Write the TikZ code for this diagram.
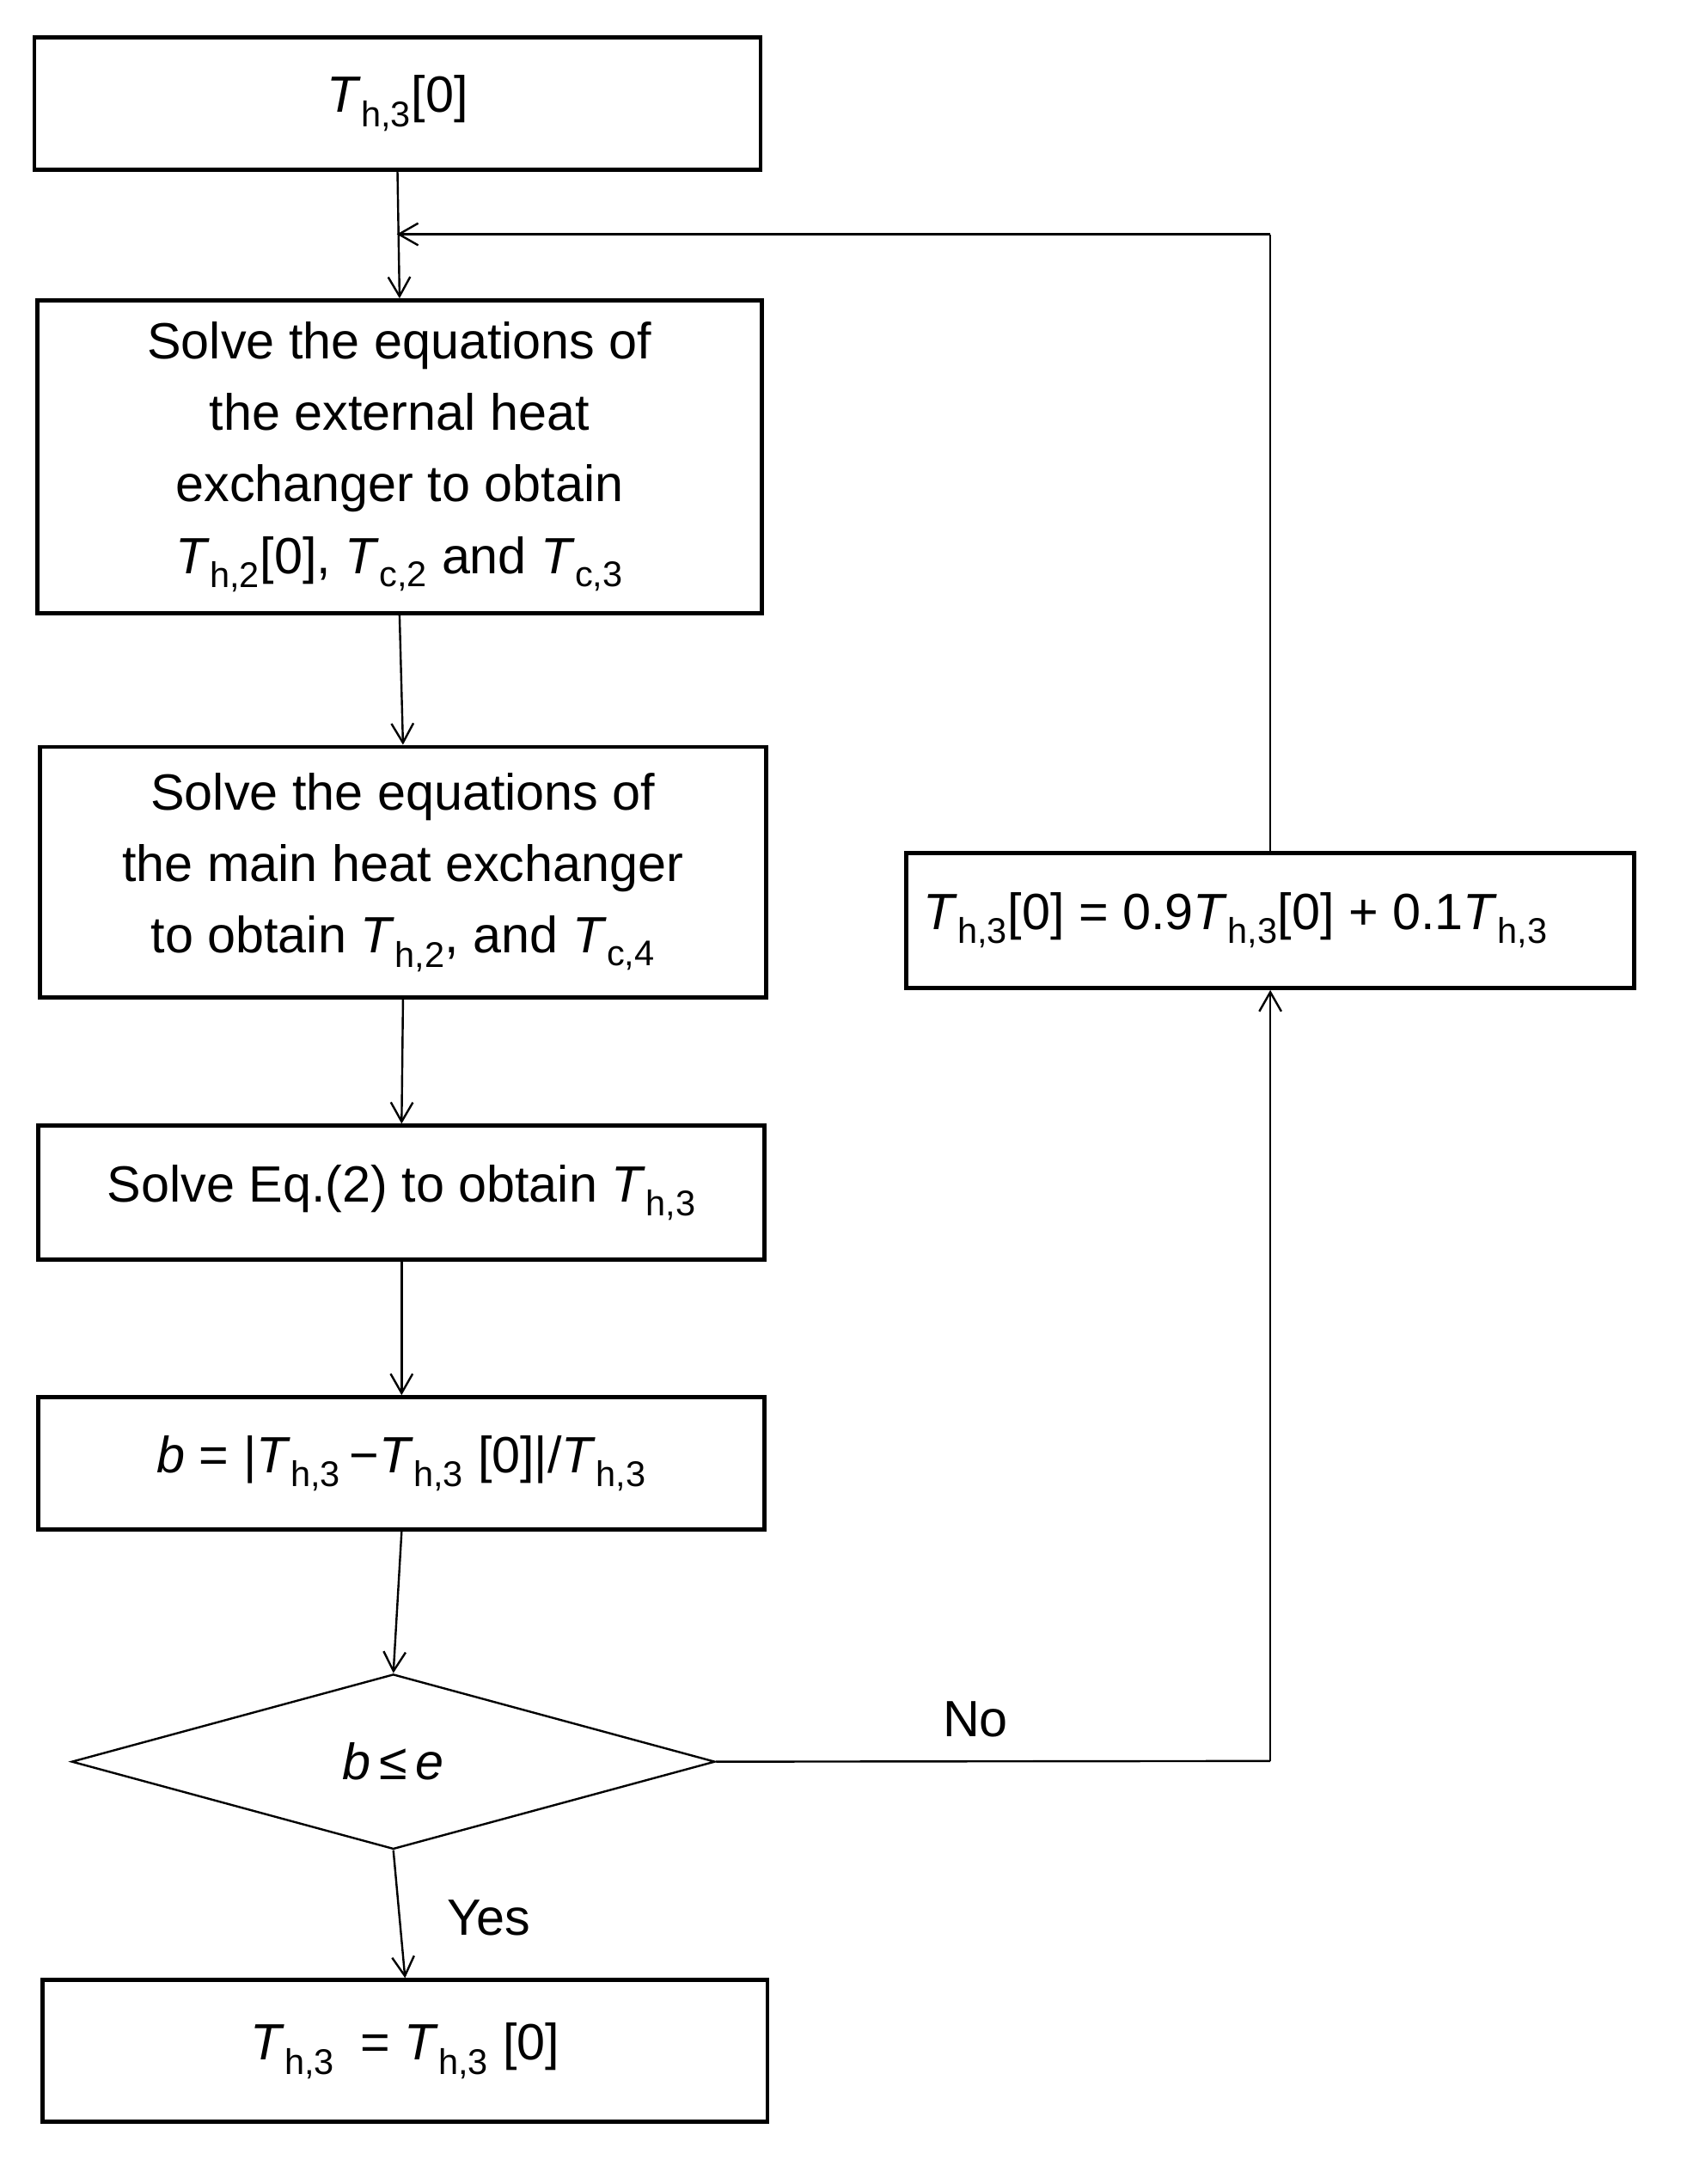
\documentclass[tikz,border=0pt]{standalone}
\usepackage{fontspec}
\setmainfont{Liberation Sans}
\usetikzlibrary{shapes.geometric,arrows.meta}
\newcommand{\TT}[1]{\textit{T}\textsubscript{#1}}
\begin{document}
\begin{tikzpicture}[x=1pt,y=-1pt,
  box/.style={draw,line width=3pt,inner sep=0pt,font=\fontsize{37}{52}\selectfont,align=center},
  arr/.style={line width=1.5pt,-{Straight Barb[length=14pt,width=16pt,line width=1.5pt]}},
  ln/.style={line width=1.5pt}]
\useasboundingbox (0,0) rectangle (1220,1585);
\node[box,minimum width=527pt,minimum height=96pt] (b1) at (288.5,75) {\TT{h,3}[0]};
\node[box,minimum width=526pt,minimum height=227pt] (b2) at (290,331.5) {Solve the equations of\\the external heat\\exchanger to obtain\\\TT{h,2}[0], \TT{c,2} and \TT{c,3}};
\node[box,minimum width=527pt,minimum height=182pt] (b3) at (292.5,633) {Solve the equations of\\the main heat exchanger\\to obtain \TT{h,2}, and \TT{c,4}};
\node[box,minimum width=527pt,minimum height=97pt] (b4) at (291.5,865.5) {Solve Eq.(2) to obtain \TT{h,3}};
\node[box,minimum width=527pt,minimum height=96pt] (b5) at (291.5,1062) {\textit{b} = |\TT{h,3}\,\textminus\TT{h,3} [0]|/\TT{h,3}};
\node[draw,line width=1.5pt,diamond,aspect=3.68,inner sep=0pt,minimum width=467pt,minimum height=127pt,font=\fontsize{37}{52}\selectfont] (d) at (285.5,1278.5) {\textit{b}\,≤\,\textit{e}};
\node[box,minimum width=526pt,minimum height=103pt] (b6) at (294,1488.5) {\TT{h,3}\enspace= \TT{h,3} [0]};
\node[box,minimum width=528pt,minimum height=98pt] (r) at (922,668) {};
\node[font=\fontsize{37}{52}\selectfont,anchor=west,inner sep=0pt] (rt) at (670,668) {\TT{h,3}[0] = 0.9\TT{h,3}[0] + 0.1\TT{h,3}};
\coordinate (top) at (288,170);
\coordinate (tr) at (922,170);
\coordinate (dr) at (922,1278);
\draw[arr] (b1.south) -- (b2.north);
\draw[arr] (b2.south) -- (b3.north);
\draw[arr] (b3.south) -- (b4.north);
\draw[arr] (b4.south) -- (b5.north);
\draw[arr] (b5.south) -- (d.north);
\draw[arr] (d.south) -- (b6.north);
\draw[ln] (r.north) -- (tr);
\draw[arr] (tr) -- (top);
\draw[ln] (d.east) -- (dr);
\draw[arr] (dr) -- (r.south);
\node[font=\fontsize{37}{52}\selectfont] (no) at (708,1248) {No};
\node[font=\fontsize{37}{52}\selectfont] (yes) at (355,1392) {Yes};
\end{tikzpicture}
\end{document}
